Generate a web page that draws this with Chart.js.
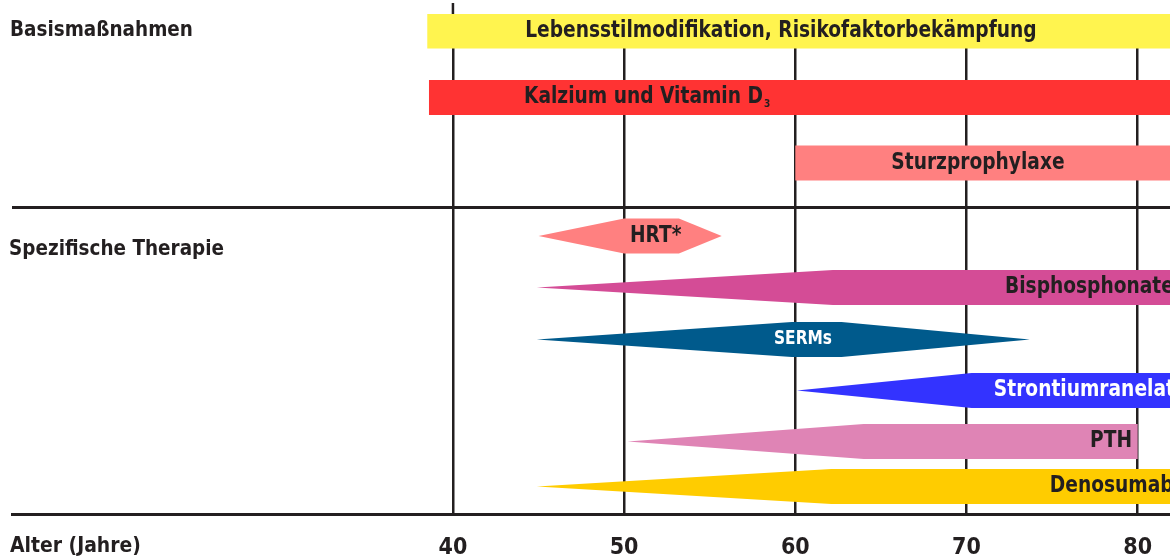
<!DOCTYPE html>
<html>
<head>
<meta charset="utf-8">
<script src="https://cdn.jsdelivr.net/npm/chart.js@4"></script>
<style>
  html, body { margin: 0; padding: 0; background: #fff; }
  #wrap { width: 1170px; height: 558px; }
</style>
</head>
<body>
<div id="wrap"><canvas id="therapyChart"></canvas></div>
<script>
// Therapien und Altersbereiche (Jahre)
const therapies = [
    "Lebensstilmodifikation, Risikofaktorbekämpfung",
    "Kalzium und Vitamin D",
    "Sturzprophylaxe",
    "HRT*",
    "Bisphosphonate",
    "SERMs",
    "Strontiumranelat",
    "PTH",
    "Denosumab"
];
const startAge   = [38.5, 38.6, 60.0, 45.0, 44.9, 44.9, 60.1, 50.2, 44.9]; // Spitze links
const fullAge    = [38.5, 38.6, 60.0, 50.0, 62.2, 59.8, 70.3, 64.0, 62.1]; // volle Breite ab
const fullEndAge = [85, 85, 85, 53.2, 85, 62.7, 85, 80.0, 85];          // volle Breite bis
const endAge     = [85, 85, 85, 55.7, 85, 73.7, 85, 80.0, 85];          // Spitze rechts
const ageTicks = [40, 50, 60, 70, 80];

// layout (pixel rows), colours
const rowY = [31, 97.5, 163, 236, 287.5, 339.5, 390.5, 441.5, 486.5];
const halfH = 17.5;
const colors = ["#fff44f", "#ff3333", "#ff8080", "#ff8080", "#d44c96", "#005a8c", "#3333ff", "#df84b5", "#ffcc00"];
const labelAge = [59.16, 44.15, 70.67, 50.34, 72.25, 60.45, 71.6, 79.67, 74.87];
const labelAlign = ["center", "left", "center", "left", "left", "center", "left", "right", "left"];
const labelColor = ["#231f20", "#231f20", "#231f20", "#231f20", "#231f20", "#fff", "#fff", "#231f20", "#231f20"];
const FONT = "'Liberation Sans Narrow', 'DejaVu Sans Condensed', sans-serif";
const INK = "#231f20";
const SQUEEZE = 0.9;

function shape(i) {
    const c = rowY[i];
    return [
        { x: startAge[i], y: c },
        { x: fullAge[i], y: c - halfH },
        { x: fullEndAge[i], y: c - halfH },
        { x: endAge[i], y: c },
        { x: fullEndAge[i], y: c + halfH },
        { x: fullAge[i], y: c + halfH },
        { x: startAge[i], y: c }
    ];
}

const datasets = therapies.map((name, i) => ({
    label: name,
    data: shape(i),
    showLine: true,
    fill: "shape",
    backgroundColor: colors[i],
    borderWidth: 0,
    borderColor: colors[i],
    pointRadius: 0,
    tension: 0
}));

// condensed text: draw with horizontal squeeze
function squeezedText(ctx, text, x, y, align, k) {
    const w = ctx.measureText(text).width * k;
    let left = x;
    if (align === "center") left = x - w / 2;
    if (align === "right") left = x - w;
    ctx.save();
    ctx.textAlign = "left";
    ctx.translate(left, y);
    ctx.scale(k, 1);
    ctx.fillText(text, 0, 0);
    ctx.restore();
    return left + w;
}

// extra lines and all texts
const decorPlugin = {
    id: "decor",
    beforeDatasetsDraw(chart) {
        const ctx = chart.ctx;
        const x = chart.scales.x;
        const y = chart.scales.y;
        ctx.save();
        ctx.strokeStyle = INK;
        ctx.lineWidth = 2.5;
        // 40er Linie nach oben verlängert
        ctx.beginPath();
        ctx.moveTo(x.getPixelForValue(40), 3);
        ctx.lineTo(x.getPixelForValue(40), y.top);
        ctx.stroke();
        // Trennlinie
        ctx.lineWidth = 3;
        ctx.beginPath();
        ctx.moveTo(x.left, y.getPixelForValue(207.5));
        ctx.lineTo(chart.width, y.getPixelForValue(207.5));
        ctx.stroke();
        ctx.restore();
    },
    afterDatasetsDraw(chart) {
        const ctx = chart.ctx;
        const x = chart.scales.x;
        const y = chart.scales.y;
        ctx.save();
        ctx.textBaseline = "middle";
        therapies.forEach((name, i) => {
            ctx.font = (i === 5 ? "bold 19px " : "bold 23px ") + FONT;
            ctx.fillStyle = labelColor[i];
            const px = x.getPixelForValue(labelAge[i]);
            const py = y.getPixelForValue(rowY[i]);
            const end = squeezedText(ctx, name, px, py, labelAlign[i], SQUEEZE);
            if (i === 1) {
                ctx.font = "bold 10px " + FONT;
                ctx.textAlign = "left";
                ctx.fillText("3", end + 1, py + 7);
            }
        });
        ctx.fillStyle = INK;
        ctx.font = "bold 22px " + FONT;
        squeezedText(ctx, "Basismaßnahmen", 10, 30, "left", 0.93);
        squeezedText(ctx, "Spezifische Therapie", 9, 249, "left", 0.93);
        squeezedText(ctx, "Alter (Jahre)", 10, 546, "left", 0.95);
        ctx.restore();
    }
};

new Chart(document.getElementById("therapyChart").getContext("2d"), {
    type: "scatter",
    data: { datasets: datasets },
    options: {
        responsive: true,
        maintainAspectRatio: false,
        animation: false,
        events: [],
        layout: { padding: { top: 14, left: 12, right: 0, bottom: 0 } },
        plugins: { legend: { display: false }, tooltip: { enabled: false } },
        scales: {
            x: {
                type: "linear",
                min: 14.24,
                max: 81.89,
                afterBuildTicks: (s) => { s.ticks = ageTicks.map(v => ({ value: v })); },
                afterFit: (s) => { s.height = 44; s.paddingLeft = 0; s.paddingRight = 0; },
                ticks: {
                    padding: 20,
                    color: INK,
                    font: { family: FONT, weight: "bold", size: 23 },
                    maxRotation: 0,
                    callback: (v) => String(v)
                },
                grid: { color: INK, lineWidth: 2.5, drawTicks: false },
                border: { display: true, color: INK, width: 3 }
            },
            y: {
                type: "linear",
                display: false,
                reverse: true,
                min: 14,
                max: 514
            }
        }
    },
    plugins: [decorPlugin]
});
</script>
</body>
</html>
